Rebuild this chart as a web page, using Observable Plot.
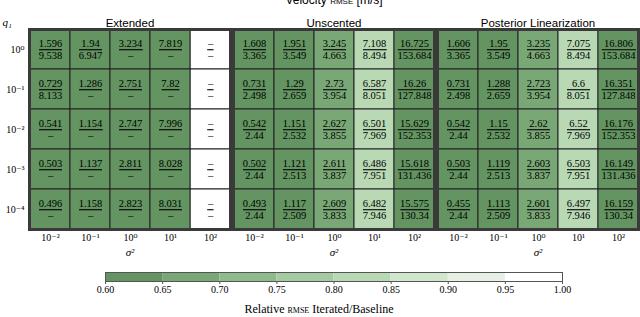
<!DOCTYPE html>
<html>
<head>
<meta charset="utf-8">
<script src="https://cdn.jsdelivr.net/npm/d3@7"></script>
<script src="https://cdn.jsdelivr.net/npm/@observablehq/plot@0.6"></script>
<style>
  html, body { margin: 0; padding: 0; background: #fff; }
  svg { display: block; }
</style>
</head>
<body>
<div id="chart"></div>
<script>
// ---- data ----
const methods = ["Extended", "Unscented", "Posterior Linearization"];
const sigma2Labels = ["10⁻²", "10⁻¹", "10⁰", "10¹", "10²"];
const q1Labels = ["10⁰", "10⁻¹", "10⁻²", "10⁻³", "10⁻⁴"];

// iterated (top) and baseline (bottom) velocity RMSE; null = diverged / "–"
const extendedIter = [
  [1.596, 1.94, 3.234, 7.819, null],
  [0.729, 1.286, 2.751, 7.82, null],
  [0.541, 1.154, 2.747, 7.996, null],
  [0.503, 1.137, 2.811, 8.028, null],
  [0.496, 1.158, 2.823, 8.031, null]
];
const extendedBase = [
  [9.538, 6.947, null, null, null],
  [8.133, null, null, null, null],
  [null, null, null, null, null],
  [null, null, null, null, null],
  [null, null, null, null, null]
];
const unscentedIter = [
  [1.608, 1.951, 3.245, 7.108, 16.725],
  [0.731, 1.29, 2.73, 6.587, 16.26],
  [0.542, 1.151, 2.627, 6.501, 15.629],
  [0.502, 1.121, 2.611, 6.486, 15.618],
  [0.493, 1.117, 2.609, 6.482, 15.575]
];
const unscentedBase = [
  [3.365, 3.549, 4.663, 8.494, 153.684],
  [2.498, 2.659, 3.954, 8.051, 127.848],
  [2.44, 2.532, 3.855, 7.969, 152.353],
  [2.44, 2.513, 3.837, 7.951, 131.436],
  [2.44, 2.509, 3.833, 7.946, 130.34]
];
const plIter = [
  [1.606, 1.95, 3.235, 7.075, 16.806],
  [0.731, 1.288, 2.723, 6.6, 16.351],
  [0.542, 1.15, 2.62, 6.52, 16.176],
  [0.503, 1.119, 2.603, 6.503, 16.149],
  [0.455, 1.113, 2.601, 6.497, 16.159]
];
const plBase = [
  [3.365, 3.549, 4.663, 8.494, 153.684],
  [2.498, 2.659, 3.954, 8.051, 127.848],
  [2.44, 2.532, 3.855, 7.969, 152.353],
  [2.44, 2.513, 3.837, 7.951, 131.436],
  [2.44, 2.509, 3.833, 7.946, 130.34]
];

// colour bar
const binEdges = [0.60, 0.65, 0.70, 0.75, 0.80, 0.85, 0.90, 0.95, 1.00];
const palette = ["#639461", "#79a876", "#8fba8b", "#a6caa2", "#b8d9b4", "#d0e6cd", "#e8f0e6", "#ffffff"];

// ---- build table ----
const iterBy = {"Extended": extendedIter, "Unscented": unscentedIter, "Posterior Linearization": plIter};
const baseBy = {"Extended": extendedBase, "Unscented": unscentedBase, "Posterior Linearization": plBase};
const fmt = v => v == null ? "–" : String(v);
const cells = [];
for (const m of methods) {
  q1Labels.forEach((q, i) => sigma2Labels.forEach((s, j) => {
    const top = iterBy[m][i][j], base = baseBy[m][i][j];
    cells.push({method: m, q, s, top, base,
      ratio: top == null ? null : (base == null ? 0 : top / base),
      label: fmt(top) + "\n" + fmt(base)});
  }));
}
const colorScale = {type: "threshold", domain: binEdges.slice(1, -1), range: palette};
const serif = "'Liberation Serif', 'DejaVu Serif', serif";
const sans = "'Liberation Sans', 'DejaVu Sans', sans-serif";

const main = Plot.plot({
  width: 640, height: 260,
  marginTop: 29, marginBottom: 31, marginLeft: 28, marginRight: 1,
  style: {fontFamily: serif, fontSize: "10px", background: "white", color: "black"},
  fx: {domain: methods, paddingInner: 0.0147, paddingOuter: 0, label: null},
  x: {domain: sigma2Labels, padding: 0, label: null},
  y: {domain: q1Labels, padding: 0, label: null},
  color: colorScale,
  marks: [
    Plot.cell(cells, {fx: "method", x: "s", y: "q", fill: "white", stroke: "#222", strokeWidth: 1}),
    Plot.cell(cells.filter(d => d.ratio != null), {fx: "method", x: "s", y: "q", fill: "ratio", stroke: "#222", strokeWidth: 1}),
    Plot.frame({stroke: "#3a3a3a", strokeWidth: 3}),
    Plot.text(cells, {fx: "method", x: "s", y: "q", text: "label", lineHeight: 1.08, lineAnchor: "middle", fontSize: 10.5, fill: "black"}),
    Plot.axisFx({anchor: "top", tickSize: 0, tickPadding: 3, label: null, fontFamily: sans, fontSize: 11.5}),
    Plot.axisX({anchor: "bottom", tickSize: 0, tickPadding: 4, label: null, fontSize: 10}),
    Plot.axisY({anchor: "left", tickSize: 0, tickPadding: 5, label: null, fontSize: 10}),
    Plot.text(methods, {fx: d => d, frameAnchor: "bottom", lineAnchor: "middle", dy: 23, text: () => "σ²", fontStyle: "italic", fontSize: 11}),
    Plot.text(["Extended"], {fx: d => d, frameAnchor: "top-left", lineAnchor: "middle", textAnchor: "start", dx: -27, dy: -7, text: () => "q₁", fontStyle: "italic", fontSize: 11}),
    Plot.text(["Unscented"], {fx: d => d, frameAnchor: "top", lineAnchor: "middle", dy: -29, text: () => "Velocity RMSE [m/s]", fontFamily: sans, fontSize: 12})
  ]
});

const bins = binEdges.slice(0, -1).map((lo, i) => ({lo, hi: binEdges[i + 1]}));
const legend = Plot.plot({
  width: 640, height: 57,
  marginTop: 12, marginBottom: 36, marginLeft: 105, marginRight: 78,
  style: {fontFamily: serif, fontSize: "10px", background: "white", color: "black"},
  x: {domain: [0.6, 1.0], label: null},
  color: colorScale,
  marks: [
    Plot.rect(bins, {x1: "lo", x2: "hi", fill: "lo"}),
    Plot.frame({stroke: "#555", strokeWidth: 1}),
    Plot.axisX({ticks: binEdges, tickFormat: d3.format(".2f"), tickSize: 3, tickPadding: 1, stroke: "#555", fontSize: 10}),
    Plot.text(["Relative RMSE Iterated/Baseline"], {frameAnchor: "bottom", lineAnchor: "middle", dy: 28, dx: -15, text: d => d, fontSize: 12})
  ]
});

const host = document.getElementById("chart");
host.append(main, legend);

// fraction bars between the two numbers of each cell
const NS = "http://www.w3.org/2000/svg";
Array.from(main.querySelectorAll("text"))
  .filter(t => t.querySelectorAll("tspan").length === 2)
  .forEach(t => {
    const b = t.getBBox();
    const line = document.createElementNS(NS, "line");
    const tr = t.getAttribute("transform");
    if (tr) line.setAttribute("transform", tr);
    const cy = b.y + b.height / 2 + 0.1;
    line.setAttribute("x1", b.x + 0.3);
    line.setAttribute("x2", b.x + b.width - 0.3);
    line.setAttribute("y1", cy);
    line.setAttribute("y2", cy);
    line.setAttribute("stroke", "black");
    line.setAttribute("stroke-width", 1.1);
    t.parentNode.appendChild(line);
  });

// small caps for RMSE
function smallCaps(svg) {
  Array.from(svg.querySelectorAll("text"))
    .filter(t => t.children.length === 0 && t.textContent.includes("RMSE"))
    .forEach(t => {
      const s = t.textContent;
      const i = s.indexOf("RMSE");
      t.textContent = "";
      const parts = [[s.slice(0, i), false], ["rmse", true], [s.slice(i + 4), false]];
      for (const [txt, sc] of parts) {
        const sp = document.createElementNS(NS, "tspan");
        sp.textContent = txt;
        if (sc) sp.setAttribute("style", "font-variant: small-caps");
        t.appendChild(sp);
      }
    });
}
smallCaps(legend);
smallCaps(main);
</script>
</body>
</html>
